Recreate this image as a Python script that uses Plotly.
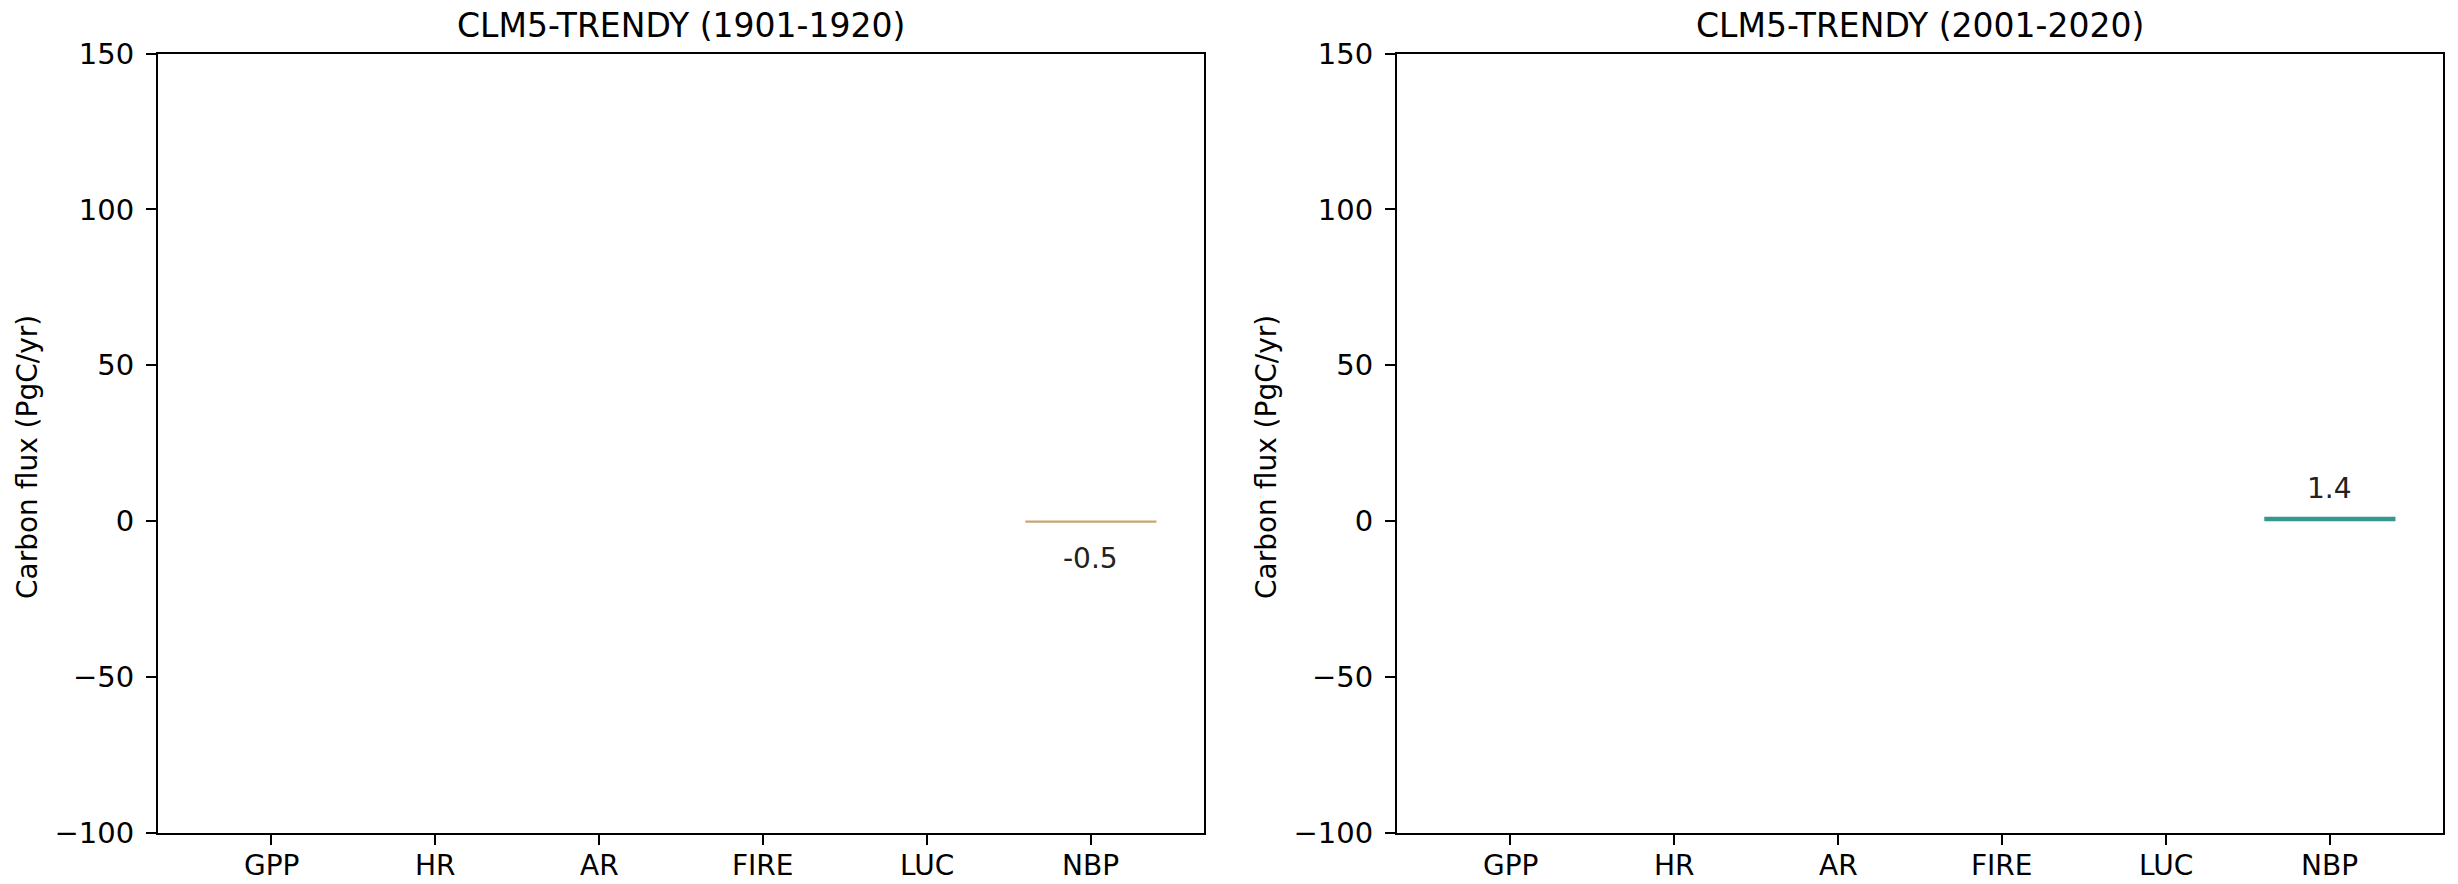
import plotly.graph_objects as go

# Global carbon flux components (PgC/yr) for two 20-year periods
categories = ["GPP", "HR", "AR", "FIRE", "LUC", "NBP"]
flux_1901_1920 = [0.0, 0.0, 0.0, 0.0, 0.0, -0.5]
flux_2001_2020 = [0.0, 0.0, 0.0, 0.0, 0.0, 1.4]
labelled = ["NBP"]

panel_titles = ["CLM5-TRENDY (1901-1920)", "CLM5-TRENDY (2001-2020)"]
y_ticks = [-100, -50, 0, 50, 100, 150]

NEG_COLOR = "#c6a673"
POS_COLOR = "#35978f"

W, H = 2458, 884
FONT = "DejaVu Sans"
panels = [
    dict(values=flux_1901_1920, x0=158, x1=1204, xa="x", ya="y"),
    dict(values=flux_2001_2020, x0=1397, x1=2443, xa="x2", ya="y2"),
]
top_px, bot_px = 53.5, 833

fig = go.Figure()
annotations = []
layout_axes = {}

for i, (p, title) in enumerate(zip(panels, panel_titles)):
    vals = p["values"]
    colors = [NEG_COLOR if v < 0 else POS_COLOR for v in vals]
    fig.add_trace(go.Bar(
        x=categories, y=vals, width=0.8, marker=dict(color=colors, line=dict(width=0)),
        xaxis=p["xa"], yaxis=p["ya"], showlegend=False,
    ))
    sfx = "" if i == 0 else str(i + 1)
    dom_x = [p["x0"] / W, p["x1"] / W]
    dom_y = [(H - bot_px) / H, (H - top_px) / H]
    common = dict(showline=True, linecolor="black", linewidth=2, mirror=True,
                  ticks="outside", ticklen=10, tickwidth=2, tickcolor="black",
                  showgrid=False, zeroline=False, automargin=False,
                  tickfont=dict(family=FONT, size=29, color="black"))
    # category labels are drawn as annotations below so they sit inside the page
    layout_axes["xaxis" + sfx] = dict(domain=dom_x, anchor="y" + sfx, type="category",
                                      range=[-0.69, 5.69], showticklabels=False, **common)
    layout_axes["yaxis" + sfx] = dict(domain=dom_y, anchor="x" + sfx, range=[-100, 150],
                                      tickvals=y_ticks, ticklabelstandoff=6, **common)

    for cat in categories:
        annotations.append(dict(
            x=cat, y=(H - 865) / H, xref=p["xa"], yref="paper", text=cat,
            showarrow=False, xanchor="center", yanchor="middle",
            font=dict(family=FONT, size=28, color="black")))

    # value labels above positive bars, below negative ones
    for cat, v in zip(categories, vals):
        if cat in labelled:
            annotations.append(dict(
                x=cat, y=v, xref=p["xa"], yref=p["ya"], text=f"{v:.1f}",
                showarrow=False, yanchor="middle",
                yshift=28.6 if v >= 0 else -35.5,
                font=dict(family=FONT, size=28, color="#222222")))

    # panel title
    annotations.append(dict(
        x=(p["x0"] + p["x1"]) / 2 / W, y=(H - 25) / H, xref="paper", yref="paper",
        text=title, showarrow=False, xanchor="center", yanchor="middle",
        font=dict(family=FONT, size=33, color="black")))
    # y-axis label
    annotations.append(dict(
        x=(p["x0"] - 130) / W, y=(H - 457) / H, xref="paper", yref="paper",
        text="Carbon flux (PgC/yr)", textangle=-90, showarrow=False,
        xanchor="center", yanchor="middle",
        font=dict(family=FONT, size=28, color="black")))

fig.update_layout(
    width=W, height=H, margin=dict(l=0, r=0, t=0, b=0, autoexpand=False),
    paper_bgcolor="white", plot_bgcolor="white",
    annotations=annotations, bargap=0.2, **layout_axes,
)

fig.write_html("out.html")
